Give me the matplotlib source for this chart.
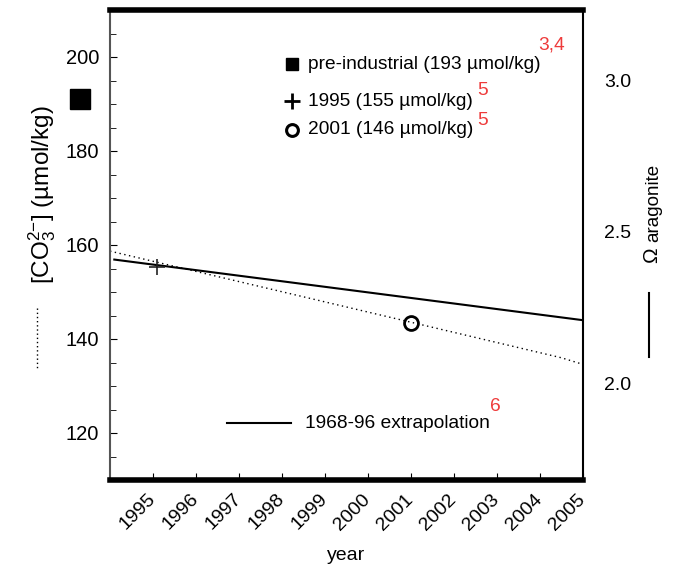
import matplotlib
matplotlib.use('Agg')
import matplotlib.pyplot as plt
from matplotlib.lines import Line2D

plt.rcParams['font.family'] = ['Liberation Sans', 'DejaVu Sans']
plt.rcParams['mathtext.fontset'] = 'custom'
plt.rcParams['mathtext.rm'] = 'Liberation Sans'
plt.rcParams['mathtext.it'] = 'Liberation Sans'

# data
years = list(range(1995, 2006))
extrap_years = [1994.1, 2005]
extrap_co3 = [156.9, 144.0]          # 1968-96 extrapolation
trend_years = [1994, 2004.5, 2005]
trend_co3 = [158.7, 136.0, 134.6]    # dotted trend
obs_1995 = (1995.1, 155.3)
obs_2001 = (2001.0, 143.5)
preind = (1993.3, 191.0)
omega_ticks = [2.0, 2.5, 3.0]

red = '#ee3b3b'
fs = 13.8

fig = plt.figure(figsize=(6.73, 5.73), dpi=100)
ax = fig.add_axes([110/673, 93/573, 473/673, 470/573])

ax.plot(extrap_years, extrap_co3, color='black', lw=1.5)
ax.plot(trend_years, trend_co3, color='black', lw=1, ls=(0, (1, 2.5)))
ax.plot(*obs_1995, marker='+', ms=12, mew=1.2, color='#222222')
ax.plot(*obs_2001, marker='o', ms=10, mew=2, mfc='none', color='black')
ax.plot(*preind, marker='s', ms=14, color='black', clip_on=False)

ax.set_xlim(1994, 2005)
ax.set_ylim(110, 210)
ax.set_xticks(years)
ax.set_xticklabels([str(y) for y in years], rotation=45, ha='right',
                   va='center', rotation_mode='anchor')
ax.set_yticks([120, 140, 160, 180, 200])
ax.set_yticks(range(110, 211, 5), minor=True)
ax.tick_params(axis='both', which='both', direction='in', labelsize=14.5)
ax.tick_params(axis='y', which='both', right=True)
ax.tick_params(axis='y', which='major', length=5, pad=8)
ax.tick_params(axis='y', which='minor', length=4)
ax.tick_params(axis='x', length=5, pad=12, labelsize=14)
ax.set_xlabel('year', fontsize=14, labelpad=10)

ax.spines['top'].set_linewidth(4)
ax.spines['bottom'].set_linewidth(4)
ax.spines['left'].set_linewidth(1.5)
ax.spines['left'].set_color('#555555')
ax.spines['right'].set_linewidth(1.5)

# right axis labels for omega aragonite
ax2 = ax.twinx()
ax2.set_ylim(1.680, 3.231)
ax2.set_yticks(omega_ticks)
ax2.set_yticklabels(['%.1f' % v for v in omega_ticks])
ax2.tick_params(axis='y', length=0, pad=15, labelsize=14)
for s in ax2.spines.values():
    s.set_visible(False)

# axis titles + line keys
fig.text(42/673, 1 - 195/573, r'[CO$_3^{2\mathrm{-}}$] (µmol/kg)', rotation=90,
         ha='center', va='center', fontsize=17.5)
fig.add_artist(Line2D([37/673, 37/673], [1 - 308/573, 1 - 368/573],
                      color='black', lw=1, ls=(0, (1, 2))))
fig.text(657/673, 1 - 263/573, 'Ω', rotation=90, rotation_mode='anchor',
         ha='left', va='baseline', fontsize=15)
fig.text(658/673, 1 - 242/573, 'aragonite', rotation=90, rotation_mode='anchor',
         ha='left', va='baseline', fontsize=13.5)
fig.add_artist(Line2D([649/673, 649/673], [1 - 293/573, 1 - 357/573],
                      color='black', lw=1.5))

# in-plot key
tr = ax.transAxes
ax.plot(0.384, 0.886, marker='s', ms=8, color='black', transform=tr)
ax.text(0.419, 0.885, 'pre-industrial (193 µmol/kg)', transform=tr,
        va='center', fontsize=fs)
ax.text(0.905, 0.915, '3,4', transform=tr, va='baseline', fontsize=fs, color=red)
ax.plot(0.384, 0.806, marker='+', ms=11, mew=2, color='black', transform=tr)
ax.text(0.419, 0.806, '1995 (155 µmol/kg)', transform=tr, va='center', fontsize=fs)
ax.text(0.776, 0.819, '5', transform=tr, va='baseline', fontsize=fs, color=red)
ax.plot(0.384, 0.744, marker='o', ms=8.5, mew=2.2, mfc='none', color='black',
        transform=tr)
ax.text(0.419, 0.745, '2001 (146 µmol/kg)', transform=tr, va='center', fontsize=fs)
ax.text(0.776, 0.755, '5', transform=tr, va='baseline', fontsize=fs, color=red)
ax.plot([0.247, 0.383], [0.121, 0.121], color='black', lw=1.5, transform=tr)
ax.text(0.412, 0.121, '1968-96 extrapolation', transform=tr, va='center',
        fontsize=fs)
ax.text(0.803, 0.147, '6', transform=tr, va='baseline', fontsize=fs, color=red)

fig.savefig('out.png', dpi=100)
